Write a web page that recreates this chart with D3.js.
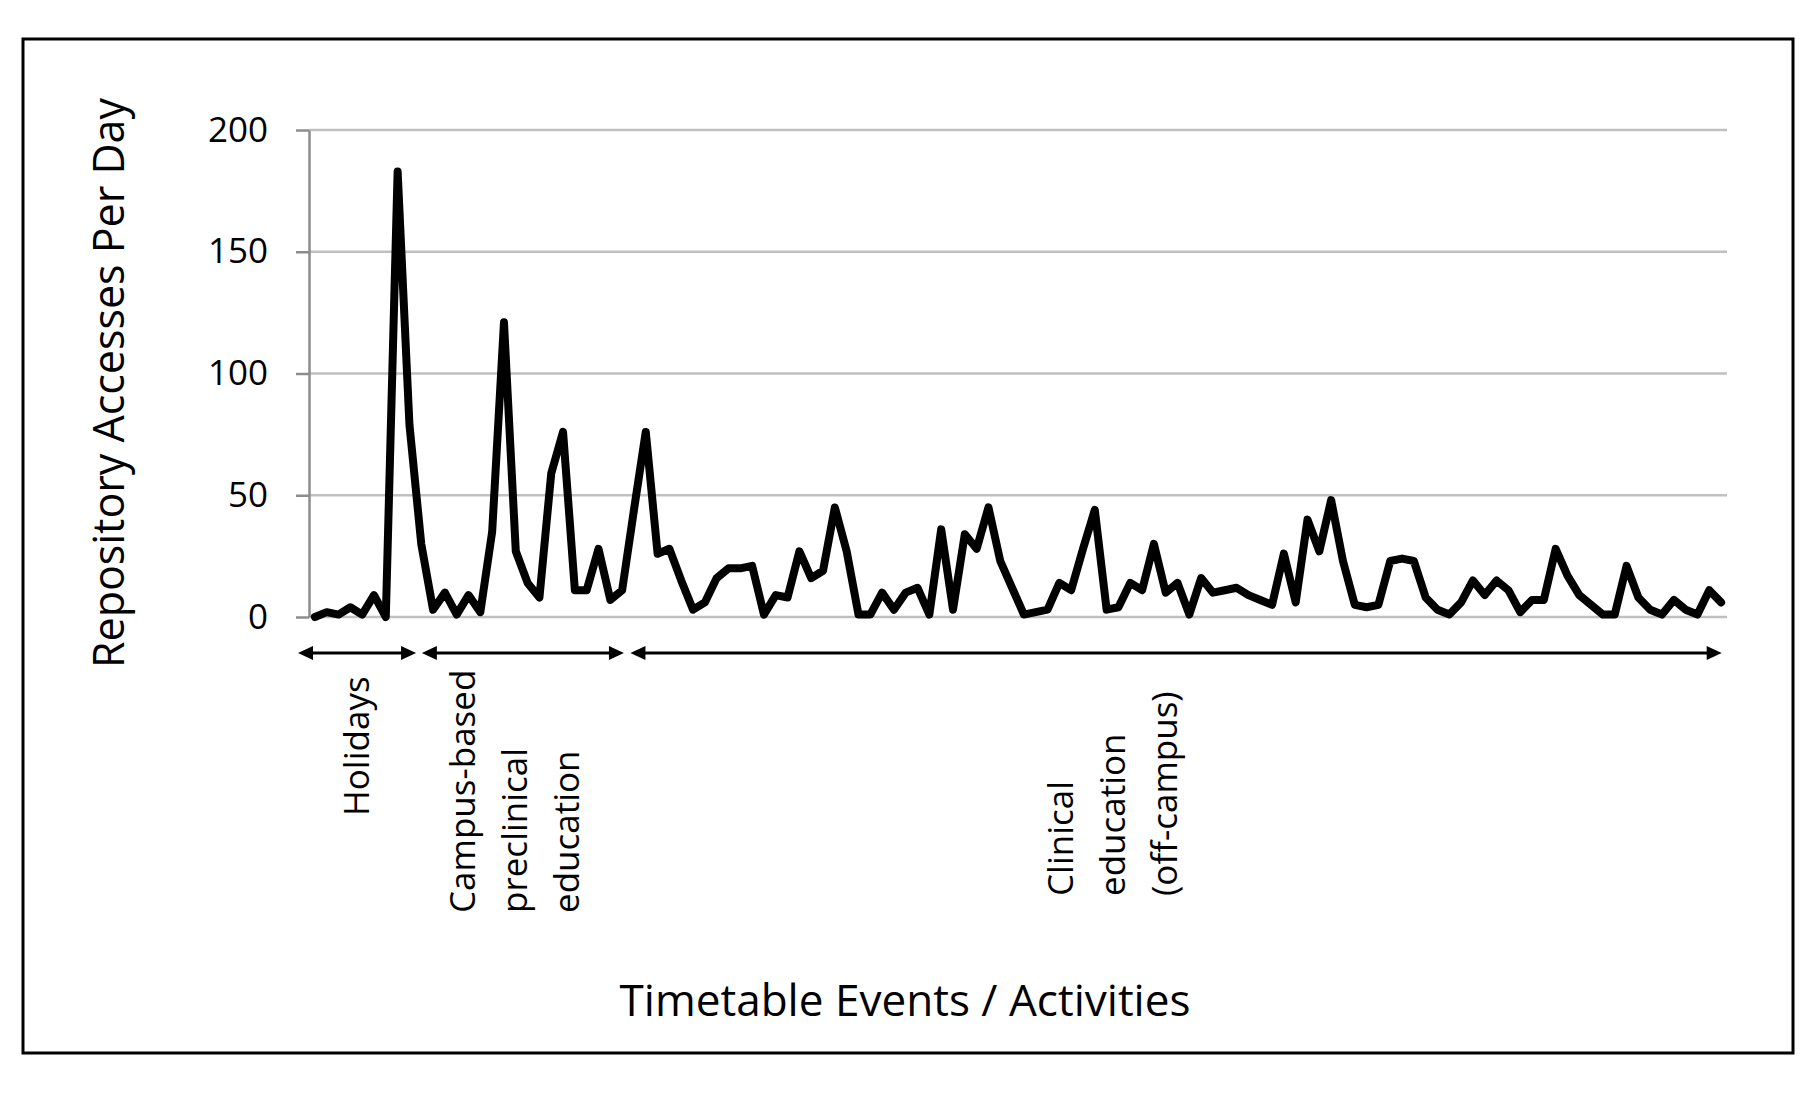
<!DOCTYPE html>
<html>
<head>
<meta charset="utf-8">
<script src="https://cdn.jsdelivr.net/npm/d3@7"></script>
<style>
  html, body { margin: 0; padding: 0; background: #fff; }
  #svg-container { width: 1813px; height: 1113px; }
  .y-axis .domain { stroke: #8c8c8c; stroke-width: 2.5; }
  .y-axis .tick line { stroke: #8c8c8c; stroke-width: 2.5; }
  .y-axis .tick text { font-family: "Open Sans", sans-serif; font-size: 35px; fill: #000; }
  .grid line { stroke: #c0c0c0; stroke-width: 2.5; }
  .period text { font-family: "Open Sans", sans-serif; font-size: 35px; fill: #000; }
  .title { font-family: "Open Sans", sans-serif; font-size: 44px; fill: #000; }
</style>
</head>
<body>
<div id="svg-container"></div>
<script>
// data
const accesses = [
  0, 2, 1, 4, 1, 9, 0, 183, 79, 30,
  3, 10, 1, 9, 2, 35, 121, 27, 14, 8,
  59, 76, 11, 11, 28, 7, 11, 44, 76, 26,
  28, 15, 3, 6, 16, 20, 20, 21, 1, 9,
  8, 27, 16, 19, 45, 27, 1, 1, 10, 3,
  10, 12, 1, 36, 3, 34, 28, 45, 23, 12,
  1, 2, 3, 14, 11, 28, 44, 3, 4, 14,
  11, 30, 10, 14, 1, 16, 10, 11, 12, 9,
  7, 5, 26, 6, 40, 27, 48, 23, 5, 4,
  5, 23, 24, 23, 8, 3, 1, 6, 15, 9,
  15, 11, 2, 7, 7, 28, 17, 9, 5, 1,
  1, 21, 8, 3, 1, 7, 3, 1, 11, 6
];
const days = d3.range(accesses.length);
const yTicks = [0, 50, 100, 150, 200];

// timetable periods (start / end in day units along the axis)
const periodNames = [
  ["Holidays"],
  ["Campus-based", "preclinical", "education"],
  ["Clinical", "education", "(off-campus)"]
];
const periodStart = [-0.93, 9.55, 27.2];
const periodEnd = [9.06, 26.65, 119.55];
const periodLabelAt = [5.08, 14.05, 64.65];   // day of the first label column's baseline
const periodLabelBottom = [816, 913, 896];

const yTitle = "Repository Accesses Per Day";
const xTitle = "Timetable Events / Activities";

// svg
const width = 1813;
const height = 1113;
const margin = { top: 130, right: 86, bottom: 496, left: 309 };

const svg = d3.select("#svg-container").append("svg")
  .attr("width", width)
  .attr("height", height);

// frame
svg.append("rect")
  .attr("x", 23).attr("y", 39)
  .attr("width", 1770).attr("height", 1014)
  .attr("fill", "none")
  .attr("stroke", "#000")
  .attr("stroke-width", 3);

// scale
const xScale = d3.scalePoint()
  .domain(days)
  .range([margin.left, width - margin.right])
  .padding(0.5);
const xDay = d3.scaleLinear()
  .domain([0, accesses.length])
  .range([margin.left, width - margin.right]);
const yScale = d3.scaleLinear()
  .domain([0, 200])
  .range([height - margin.bottom, margin.top]);

// gridlines
svg.append("g")
  .attr("class", "grid")
  .selectAll("line")
  .data(yTicks)
  .join("line")
  .attr("x1", margin.left)
  .attr("x2", width - margin.right)
  .attr("y1", (d) => yScale(d))
  .attr("y2", (d) => yScale(d));

// axis
const yAxis = d3.axisLeft(yScale)
  .tickValues(yTicks)
  .tickSize(13)
  .tickPadding(28)
  .tickSizeOuter(0);

svg.append("g")
  .attr("class", "y-axis")
  .attr("transform", `translate(${margin.left},0)`)
  .call(yAxis);

// line
const line = d3.line()
  .x((d, i) => xScale(i))
  .y((d) => yScale(d));

svg.append("path")
  .datum(accesses)
  .attr("d", line)
  .attr("fill", "none")
  .attr("stroke", "#000")
  .attr("stroke-width", 8)
  .attr("stroke-linejoin", "round")
  .attr("stroke-linecap", "round");

// period arrows
const arrowY = 653;
const head = 15;
const half = 7;
const periods = svg.append("g").attr("class", "period");

periodNames.forEach((lines, i) => {
  const x0 = xDay(periodStart[i]);
  const x1 = xDay(periodEnd[i]);
  periods.append("line")
    .attr("x1", x0 + head - 2).attr("x2", x1 - head + 2)
    .attr("y1", arrowY).attr("y2", arrowY)
    .attr("stroke", "#000")
    .attr("stroke-width", 3);
  periods.append("path")
    .attr("d", `M${x0},${arrowY}L${x0 + head},${arrowY - half}L${x0 + head},${arrowY + half}Z`)
    .attr("fill", "#000");
  periods.append("path")
    .attr("d", `M${x1},${arrowY}L${x1 - head},${arrowY - half}L${x1 - head},${arrowY + half}Z`)
    .attr("fill", "#000");

  // rotated label, one column per line
  const bx0 = xDay(periodLabelAt[i]);
  lines.forEach((t, j) => {
    periods.append("text")
      .attr("transform", `translate(${bx0 + j * 52},${periodLabelBottom[i]}) rotate(-90)`)
      .attr("text-anchor", "start")
      .text(t);
  });
});

// titles
svg.append("text")
  .attr("class", "title")
  .attr("transform", "translate(124,383) rotate(-90)")
  .attr("text-anchor", "middle")
  .attr("textLength", 570)
  .attr("lengthAdjust", "spacingAndGlyphs")
  .text(yTitle);

svg.append("text")
  .attr("class", "title")
  .attr("x", 905)
  .attr("y", 1016)
  .attr("text-anchor", "middle")
  .attr("textLength", 571)
  .attr("lengthAdjust", "spacingAndGlyphs")
  .text(xTitle);
</script>
</body>
</html>
